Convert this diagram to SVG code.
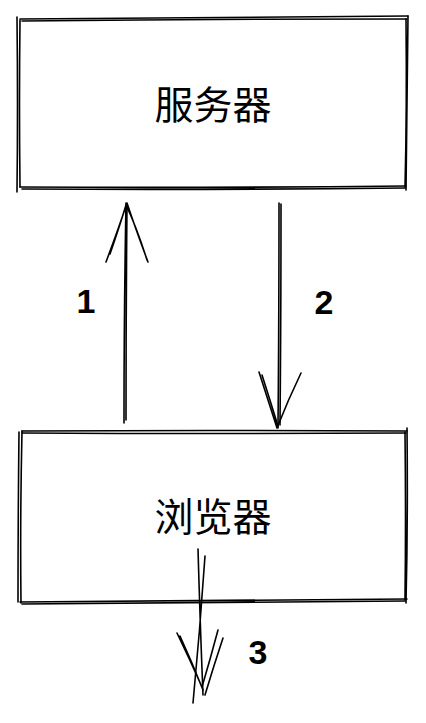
<svg xmlns="http://www.w3.org/2000/svg" width="426" height="723" viewBox="0 0 426 723">
<style>
.s{fill:none;stroke:#000;stroke-width:1.6;stroke-linecap:round;stroke-linejoin:round}
.t{font-family:"Noto Sans CJK SC","Noto Sans",sans-serif;font-size:39px;fill:#000;text-anchor:middle;dominant-baseline:central}
.n{font-family:"Liberation Sans","DejaVu Sans",sans-serif;font-size:34px;font-weight:bold;fill:#000;text-anchor:middle;dominant-baseline:central}
</style>
<rect width="426" height="723" fill="#fff"/>
<g id="server">
<path class="s" d="M20 19 Q210 18 408 16 M22 21 Q214 19 407 19"/>
<path class="s" d="M17 17 Q18 110 17 192 M20 20 Q19 100 20 187"/>
<path class="s" d="M408 16 Q407 100 406 190 M406 19 Q407 110 405 187"/>
<path class="s" d="M20 187 Q210 188 406 186 M22 189 Q214 190 405 188"/>
<text class="t" x="213" y="102">服务器</text>
</g>
<g id="browser">
<path class="s" d="M22 431 Q210 430 407 431 M22 433 Q214 434 406 433"/>
<path class="s" d="M22 431 Q20 520 21 603 M19 432 Q18 520 18 602"/>
<path class="s" d="M407 428 Q408 520 406 603 M405 432 Q406 520 405 600"/>
<path class="s" d="M20 602 Q210 601 407 599 M22 604 Q214 603 405 601"/>
<text class="t" x="213" y="514">浏览器</text>
</g>
<g id="connectors">
<path class="s" d="M124 423 Q124 310 126 203 M126 420 Q126 310 127 204"/>
<path class="s" d="M106 262 Q118 230 127 203 Q136 230 148 262 M110 254 Q120 225 126 205 Q137 228 147 260"/>
<path class="s" d="M279 203 Q279 320 278 428 M281 204 Q281 320 280 425"/>
<path class="s" d="M259 372 Q268 400 277 428 Q288 400 301 373 M262 375 Q270 400 278 426"/>
<path class="s" d="M198 549 Q200 620 203 695 M205 556 Q200 630 193 703"/>
<path class="s" d="M177 633 Q190 660 202 687 M223 638 Q214 665 205 695 M218 630 Q210 660 202 687 M180 636 Q192 662 203 690"/>
</g>
<g id="labels">
<text class="n" x="86" y="301">1</text>
<text class="n" x="324" y="302">2</text>
<text class="n" x="258" y="652">3</text>
</g>
</svg>
